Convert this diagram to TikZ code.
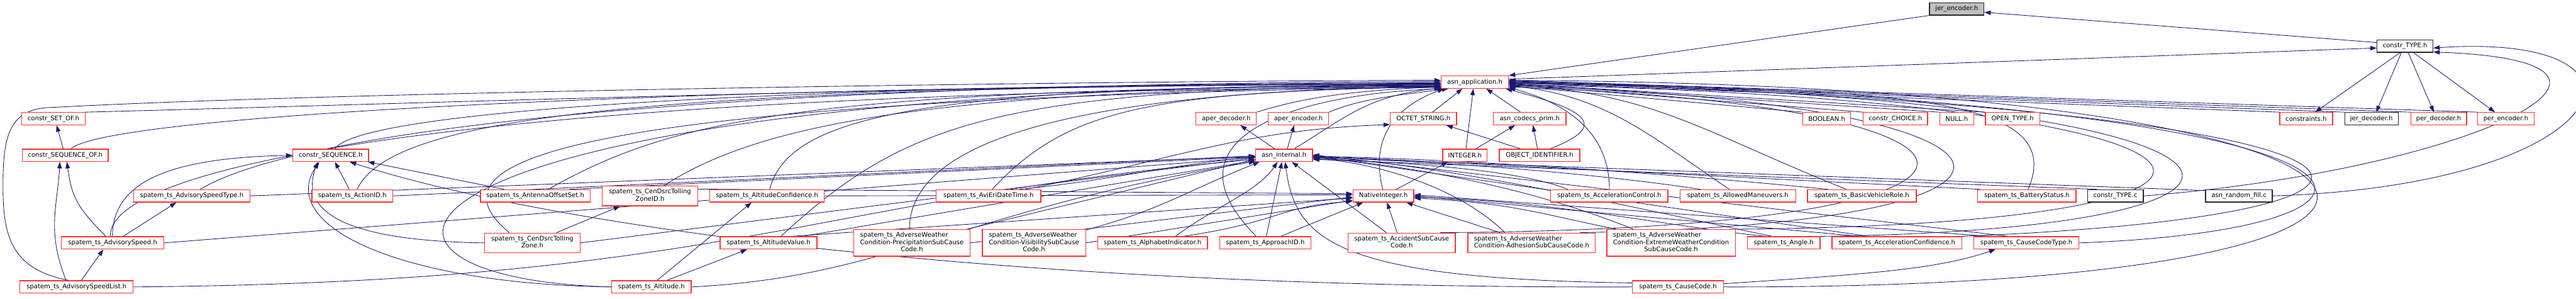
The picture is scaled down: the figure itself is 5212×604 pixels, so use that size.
\documentclass[tikz,border=0pt]{standalone}
\usepackage{fontspec}
\newfontfamily\graphfont{DejaVu Sans}
\usetikzlibrary{arrows.meta,backgrounds}
\definecolor{navy}{HTML}{191970}
\definecolor{trunc}{HTML}{FF3030}
\definecolor{curfill}{HTML}{BFBFBF}
\tikzset{
  hdr/.style={draw=trunc, line width=1.6pt, fill=white, inner sep=2pt, minimum height=25,
    font=\graphfont\fontsize{12.8}{14.3}\selectfont},
  hdrblack/.style={hdr, draw=black!85},
  hdrself/.style={hdr, draw=black!85, fill=curfill},
  dep/.style={navy, line width=1.1pt, -{Triangle[length=13pt,width=9pt]}},
}
\begin{document}
\begin{tikzpicture}[x=1pt, y=1pt]
 \useasboundingbox (0,0) rectangle (5212,604);

 % top of the graph
 \node[hdrself, minimum width=110] (jer) at (3959,586) {jer\_encoder.h};
 \node[hdrblack, minimum width=113] (ctype) at (4866,511) {constr\_TYPE.h};
 \node[hdr, minimum width=136] (app) at (2984,438) {asn\_application.h};

 % row 4
 \node[hdr, minimum width=129] (sof) at (108,364) {constr\_SET\_OF.h};
 \node[hdr, minimum width=122] (apd) at (2481,364) {aper\_decoder.h};
 \node[hdr, minimum width=122] (ape) at (2627,364) {aper\_encoder.h};
 \node[hdr, minimum width=134] (oct) at (2880,364) {OCTET\_STRING.h};
 \node[hdr, minimum width=147] (acp) at (3095,364) {asn\_codecs\_prim.h};
 \node[hdr, minimum width=97] (bool) at (3696,364) {BOOLEAN.h};
 \node[hdr, minimum width=130] (choice) at (3835,364) {constr\_CHOICE.h};
 \node[hdr, minimum width=69] (null) at (3959,364) {NULL.h};
 \node[hdr, minimum width=110] (open) at (4072,364) {OPEN\_TYPE.h};
 \node[hdr, minimum width=107] (cons) at (4666,364) {constraints.h};
 \node[hdrblack, minimum width=108] (jdec) at (4798,364) {jer\_decoder.h};
 \node[hdr, minimum width=113] (pdec) at (4934,364) {per\_decoder.h};
 \node[hdr, minimum width=114] (penc) at (5070,364) {per\_encoder.h};

 % row 5
 \node[hdr, minimum width=174] (sqo) at (132,290) {constr\_SEQUENCE\_OF.h};
 \node[hdr, minimum width=153] (seq) at (669,290) {constr\_SEQUENCE.h};
 \node[hdr, minimum width=115] (intl) at (2598,290) {asn\_internal.h};
 \node[hdr, minimum width=90] (integer) at (2964,290) {INTEGER.h};
 \node[hdr, minimum width=163] (oid) at (3115,290) {OBJECT\_IDENTIFIER.h};

 % row 6
 \node[hdr, minimum width=236] (ast) at (388,208) {spatem\_ts\_AdvisorySpeedType.h};
 \node[hdr, minimum width=164] (aid) at (713,208) {spatem\_ts\_ActionID.h};
 \node[hdr, minimum width=222] (aos) at (1083,208) {spatem\_ts\_AntennaOffsetSet.h};
 \node[hdr, minimum width=193, minimum height=40] (czi) at (1315,208)
   {\begin{tabular}{@{}l@{}}spatem\_ts\_CenDsrcTolling\\\multicolumn{1}{@{}c@{}}{ZoneID.h}\end{tabular}};
 \node[hdr, minimum width=232] (altc) at (1552,208) {spatem\_ts\_AltitudeConfidence.h};
 \node[hdr, minimum width=212] (avi) at (2000,208) {spatem\_ts\_AviEriDateTime.h};
 \node[hdr, minimum width=123] (nat) at (2799,208) {NativeInteger.h};
 \node[hdr, minimum width=237] (acl) at (3256,208) {spatem\_ts\_AccelerationControl.h};
 \node[hdr, minimum width=234] (alm) at (3516,208) {spatem\_ts\_AllowedManeuvers.h};
 \node[hdr, minimum width=220] (bvr) at (3767,208) {spatem\_ts\_BasicVehicleRole.h};
 \node[hdr, minimum width=199] (bat) at (4101,208) {spatem\_ts\_BatteryStatus.h};
 \node[hdrblack, minimum width=113] (ctc) at (4280,208) {constr\_TYPE.c};
 \node[hdrblack, minimum width=135] (arf) at (4530,208) {asn\_random\_fill.c};

 % row 7
 \node[hdr, minimum width=207] (asp) at (228,113) {spatem\_ts\_AdvisorySpeed.h};
 \node[hdr, minimum width=193, minimum height=40] (czo) at (1077,113)
   {\begin{tabular}{@{}l@{}}spatem\_ts\_CenDsrcTolling\\\multicolumn{1}{@{}c@{}}{Zone.h}\end{tabular}};
 \node[hdr, minimum width=196] (altv) at (1555,113) {spatem\_ts\_AltitudeValue.h};
 \node[hdr, minimum width=235, minimum height=54] (pre) at (1845,113)
   {\begin{tabular}{@{}l@{}}spatem\_ts\_AdverseWeather\\Condition-PrecipitationSubCause\\\multicolumn{1}{@{}c@{}}{Code.h}\end{tabular}};
 \node[hdr, minimum width=209, minimum height=54] (vis) at (2092,113)
   {\begin{tabular}{@{}l@{}}spatem\_ts\_AdverseWeather\\Condition-VisibilitySubCause\\\multicolumn{1}{@{}c@{}}{Code.h}\end{tabular}};
 \node[hdr, minimum width=222] (alp) at (2332,113) {spatem\_ts\_AlphabetIndicator.h};
 \node[hdr, minimum width=184] (apid) at (2560,113) {spatem\_ts\_ApproachID.h};
 \node[hdr, minimum width=217, minimum height=40] (acc) at (2836,113)
   {\begin{tabular}{@{}l@{}}spatem\_ts\_AccidentSubCause\\\multicolumn{1}{@{}c@{}}{Code.h}\end{tabular}};
 \node[hdr, minimum width=258, minimum height=40] (adh) at (3099,113)
   {\begin{tabular}{@{}l@{}}spatem\_ts\_AdverseWeather\\\multicolumn{1}{@{}c@{}}{Condition-AdhesionSubCauseCode.h}\end{tabular}};
 \node[hdr, minimum width=260, minimum height=54] (ext) at (3381,113)
   {\begin{tabular}{@{}l@{}}spatem\_ts\_AdverseWeather\\Condition-ExtremeWeatherCondition\\\multicolumn{1}{@{}c@{}}{SubCauseCode.h}\end{tabular}};
 \node[hdr, minimum width=147] (ang) at (3609,113) {spatem\_ts\_Angle.h};
 \node[hdr, minimum width=263] (acf) at (3838,113) {spatem\_ts\_AccelerationConfidence.h};
 \node[hdr, minimum width=213] (cct) at (4100,113) {spatem\_ts\_CauseCodeType.h};

 % row 8
 \node[hdr, minimum width=229] (asl) at (155,24) {spatem\_ts\_AdvisorySpeedList.h};
 \node[hdr, minimum width=161] (alt) at (1318,24) {spatem\_ts\_Altitude.h};
 \node[hdr, minimum width=184] (cc) at (3395,24) {spatem\_ts\_CauseCode.h};

 \begin{scope}[on background layer]
 % upper part
 \draw[dep] (ctype.173) -- (jer.-7);
 \draw[dep] (jer.south west) -- (app.north east);
 \draw[dep] (app.5) -- (ctype.184);
 \draw[dep] (ctype.-126) -- (cons.36);
 \draw[dep] (ctype.-119) -- (jdec.54);
 \draw[dep] (ctype.-64) -- (pdec.126);
 \draw[dep] (ctype.-38) -- (penc.149);
 \draw[dep] (cons.north west) -- (app.-1);
 \draw[dep] (jdec.north west) -- (app.1);
 \draw[dep] (pdec.north west) -- (app.2);
 \draw[dep] (penc.north west) -- (app.3);
 \draw[dep] (bool.north west) -- (app.-6);
 \draw[dep] (choice.north west) -- (app.-4);
 \draw[dep] (null.north west) -- (app.-3);
 \draw[dep] (open.north west) -- (app.-2);
 \draw[dep] (apd.north east) .. controls +(80,25) and +(-200,-8) .. (app.-172);
 \draw[dep] (ape.north east) .. controls +(60,25) and +(-120,-15) .. (app.-166);
 \draw[dep] (oct.36) -- (app.-152);
 \draw[dep] (acp.144) -- (app.-30);
 \draw[dep] (intl.145) -- (apd.-25);
 \draw[dep] (intl.64) -- (ape.-123);
 \draw[dep] (intl.33) .. controls +(100,60) and +(-150,-15) .. (app.-170);
 \draw[dep] (integer.81) -- (app.-103);
 \draw[dep] (integer.31) -- (acp.-156);
 \draw[dep] (oid.108) -- (acp.-64);
 \draw[dep] (oid.161) -- (oct.-16);
 \draw[dep] (oid.32) .. controls +(130,50) and +(150,-40) .. (app.-12);
 \draw[dep] (nat.27) -- (integer.-159);
 \draw[dep] (nat.96) .. controls +(-30,120) and +(-80,-30) .. (app.-168);
 \draw[dep] (sof.north east) .. controls +(700,18) and +(-1000,0) .. (app.184);
 \draw[dep] (sqo.107) -- (sof.-64);
 \draw[dep] (sqo.49) .. controls +(80,70) and +(-1500,-5) .. (app.182);
 \draw[dep] (seq.57) .. controls +(50,75) and +(-1400,-5) .. (app.181);
 \draw[dep] (ctc.160) -- (intl.-8);
 \draw[dep] (ctc.east) .. controls (5000,260) and (5450,480) .. (ctype.-12);
 \draw[dep] (arf.171) -- (intl.-4);
 \draw[dep] (arf.east) .. controls (5300,230) and (5420,540) .. (ctype.-4);

 % left part
 \draw[dep] (ast.38) .. controls +(200,120) and +(-1500,-5) .. (app.179);
 \draw[dep] (ast.east) -- (intl.-178);
 \draw[dep] (asp.32) -- (ast.-157);
 \draw[dep] (asp.136) .. controls +(-60,60) and +(10,-70) .. (sqo.-76);
 \draw[dep] (asp.92) .. controls +(0,110) and +(-250,-5) .. (seq.west);
 \draw[dep] (asp.110) .. controls +(-5,150) and +(-1900,-5) .. (app.189);
 \draw[dep] (asp.east) -- (intl.-176);
 \draw[dep] (asl.54) -- (asp.-145);
 \draw[dep] (asl.148) .. controls +(-40,100) and +(-5,-90) .. (sqo.-129);
 \draw[dep] (asl.140) .. controls (20,60) and (6,130) .. (6,230)
   .. controls (6,330) and (20,378) .. (90,386)
   .. controls (700,420) and (2300,441) .. (app.177);
 \draw[dep] (asl.east) .. controls +(1200,10) and +(-900,-80) .. (intl.-172);
 \draw[dep] (aid.116) -- (seq.-57);
 \draw[dep] (aid.54) .. controls +(70,150) and +(-1600,-5) .. (app.183);
 \draw[dep] (aid.east) -- (intl.-179);
 \draw[dep] (aos.168) -- (seq.-10);
 \draw[dep] (aos.27) .. controls +(250,140) and +(-1300,-5) .. (app.186);
 \draw[dep] (aos.11) -- (intl.-177);
 \draw[dep] (czi.36) .. controls +(200,130) and +(-1000,-5) .. (app.187);
 \draw[dep] (czi.8) -- (nat.176);
 \draw[dep] (czo.23) -- (czi.-161);
 \draw[dep] (czo.west) .. controls +(-330,5) and +(-30,-80) .. (seq.-153);
 \draw[dep] (czo.156) .. controls (880,260) and (1000,400) .. (app.188);
 \draw[dep] (czo.east) -- (intl.-175);
 \draw[dep] (alt.49) -- (altc.-157);
 \draw[dep] (alt.23) -- (altv.-163);
 \draw[dep] (alt.west) .. controls (600,40) and (700,430) .. (app.185);
 \draw[dep] (alt.west) .. controls (800,30) and (560,150) .. (seq.-150);
 \draw[dep] (alt.east) .. controls +(400,20) and +(-600,-100) .. (intl.-168);
 \draw[dep] (altc.68) .. controls +(40,160) and +(-1000,-5) .. (app.184);
 \draw[dep] (altc.east) -- (nat.178);
 \draw[dep] (altv.28) .. controls +(250,230) and +(-900,-5) .. (app.186);
 \draw[dep] (altv.16) -- (nat.-176);
 \draw[dep] (altv.11) -- (intl.-170);
 \draw[dep] (pre.100) .. controls +(0,190) and +(-700,-10) .. (app.187);
 \draw[dep] (pre.east) -- (nat.-178);
 \draw[dep] (pre.14) -- (intl.-172);
 \draw[dep] (vis.14) .. controls +(150,40) and +(-150,-60) .. (intl.-165);
 \draw[dep] (vis.east) -- (nat.-172);
 \draw[dep] (avi.61) .. controls +(150,160) and +(-600,-10) .. (app.188);
 \draw[dep] (avi.12) .. controls +(200,20) and +(-200,-20) .. (intl.-177);
 \draw[dep] (avi.10) .. controls +(300,60) and +(-300,-10) .. (oct.-170);
 \draw[dep] (alp.16) .. controls +(80,60) and +(-40,-60) .. (intl.-135);
 \draw[dep] (alp.12) .. controls +(200,30) and +(-150,-10) .. (nat.-170);
 \draw[dep] (apid.144) .. controls +(-200,200) and +(-300,-10) .. (app.192);
 \draw[dep] (apid.81) -- (intl.-108);
 \draw[dep] (apid.23) -- (nat.-162);

 % right part
 \draw[dep] (acc.146) -- (intl.-40);
 \draw[dep] (acc.114) -- (nat.-61);
 \draw[dep] (acc.15) .. controls (4200,140) and (4150,390) .. (app.-8);
 \draw[dep] (adh.159) .. controls +(-60,60) and +(200,-20) .. (intl.-5);
 \draw[dep] (adh.162) -- (nat.-16);
 \draw[dep] (adh.12) .. controls (4250,150) and (4200,395) .. (app.-6);
 \draw[dep] (ext.160) .. controls +(-150,60) and +(300,-30) .. (intl.-3);
 \draw[dep] (ext.166) .. controls +(-150,30) and +(200,-10) .. (nat.-4);
 \draw[dep] (ext.north east) .. controls (4750,150) and (4650,400) .. (app.-4);
 \draw[dep] (ang.150) .. controls +(-200,40) and +(300,-20) .. (intl.-2);
 \draw[dep] (ang.160) .. controls +(-200,20) and +(300,-10) .. (nat.-2);
 \draw[dep] (ang.north east) .. controls (4780,140) and (4700,410) .. (app.-2);
 \draw[dep] (acf.167) -- (intl.-1);
 \draw[dep] (acf.170) -- (nat.0);
 \draw[dep] (acf.north east) .. controls (5050,170) and (5000,380) .. (app.0);
 \draw[dep] (cct.160) -- (intl.1);
 \draw[dep] (cct.170) -- (nat.2);
 \draw[dep] (cct.east) .. controls (4950,140) and (5000,390) .. (app.2);
 \draw[dep] (cc.4) .. controls +(300,20) and +(-120,-40) .. (cct.-168);
 \draw[dep] (cc.west) .. controls (2000,20) and (1100,150) .. (seq.-19);
 \draw[dep] (cc.175) .. controls (2700,40) and (2620,120) .. (intl.-80);
 \draw[dep] (cc.east) .. controls (5200,20) and (5100,430) .. (app.3);
 \draw[dep] (acl.89) .. controls +(0,120) and +(110,-30) .. (app.-9);
 \draw[dep] (acl.171) .. controls +(-100,40) and +(200,-10) .. (intl.-6);
 \draw[dep] (alm.142) .. controls +(-150,100) and +(200,-20) .. (app.-6);
 \draw[dep] (alm.170) .. controls +(-200,30) and +(300,-10) .. (intl.-4);
 \draw[dep] (bvr.157) .. controls +(-300,120) and +(300,-20) .. (app.-4);
 \draw[dep] (bvr.169) .. controls +(-300,30) and +(300,-5) .. (intl.-2);
 \draw[dep] (bat.80) .. controls (4190,420) and (3800,420) .. (app.-1);
 \draw[dep] (bat.172) -- (intl.-1);
 \end{scope}
\end{tikzpicture}
\end{document}
